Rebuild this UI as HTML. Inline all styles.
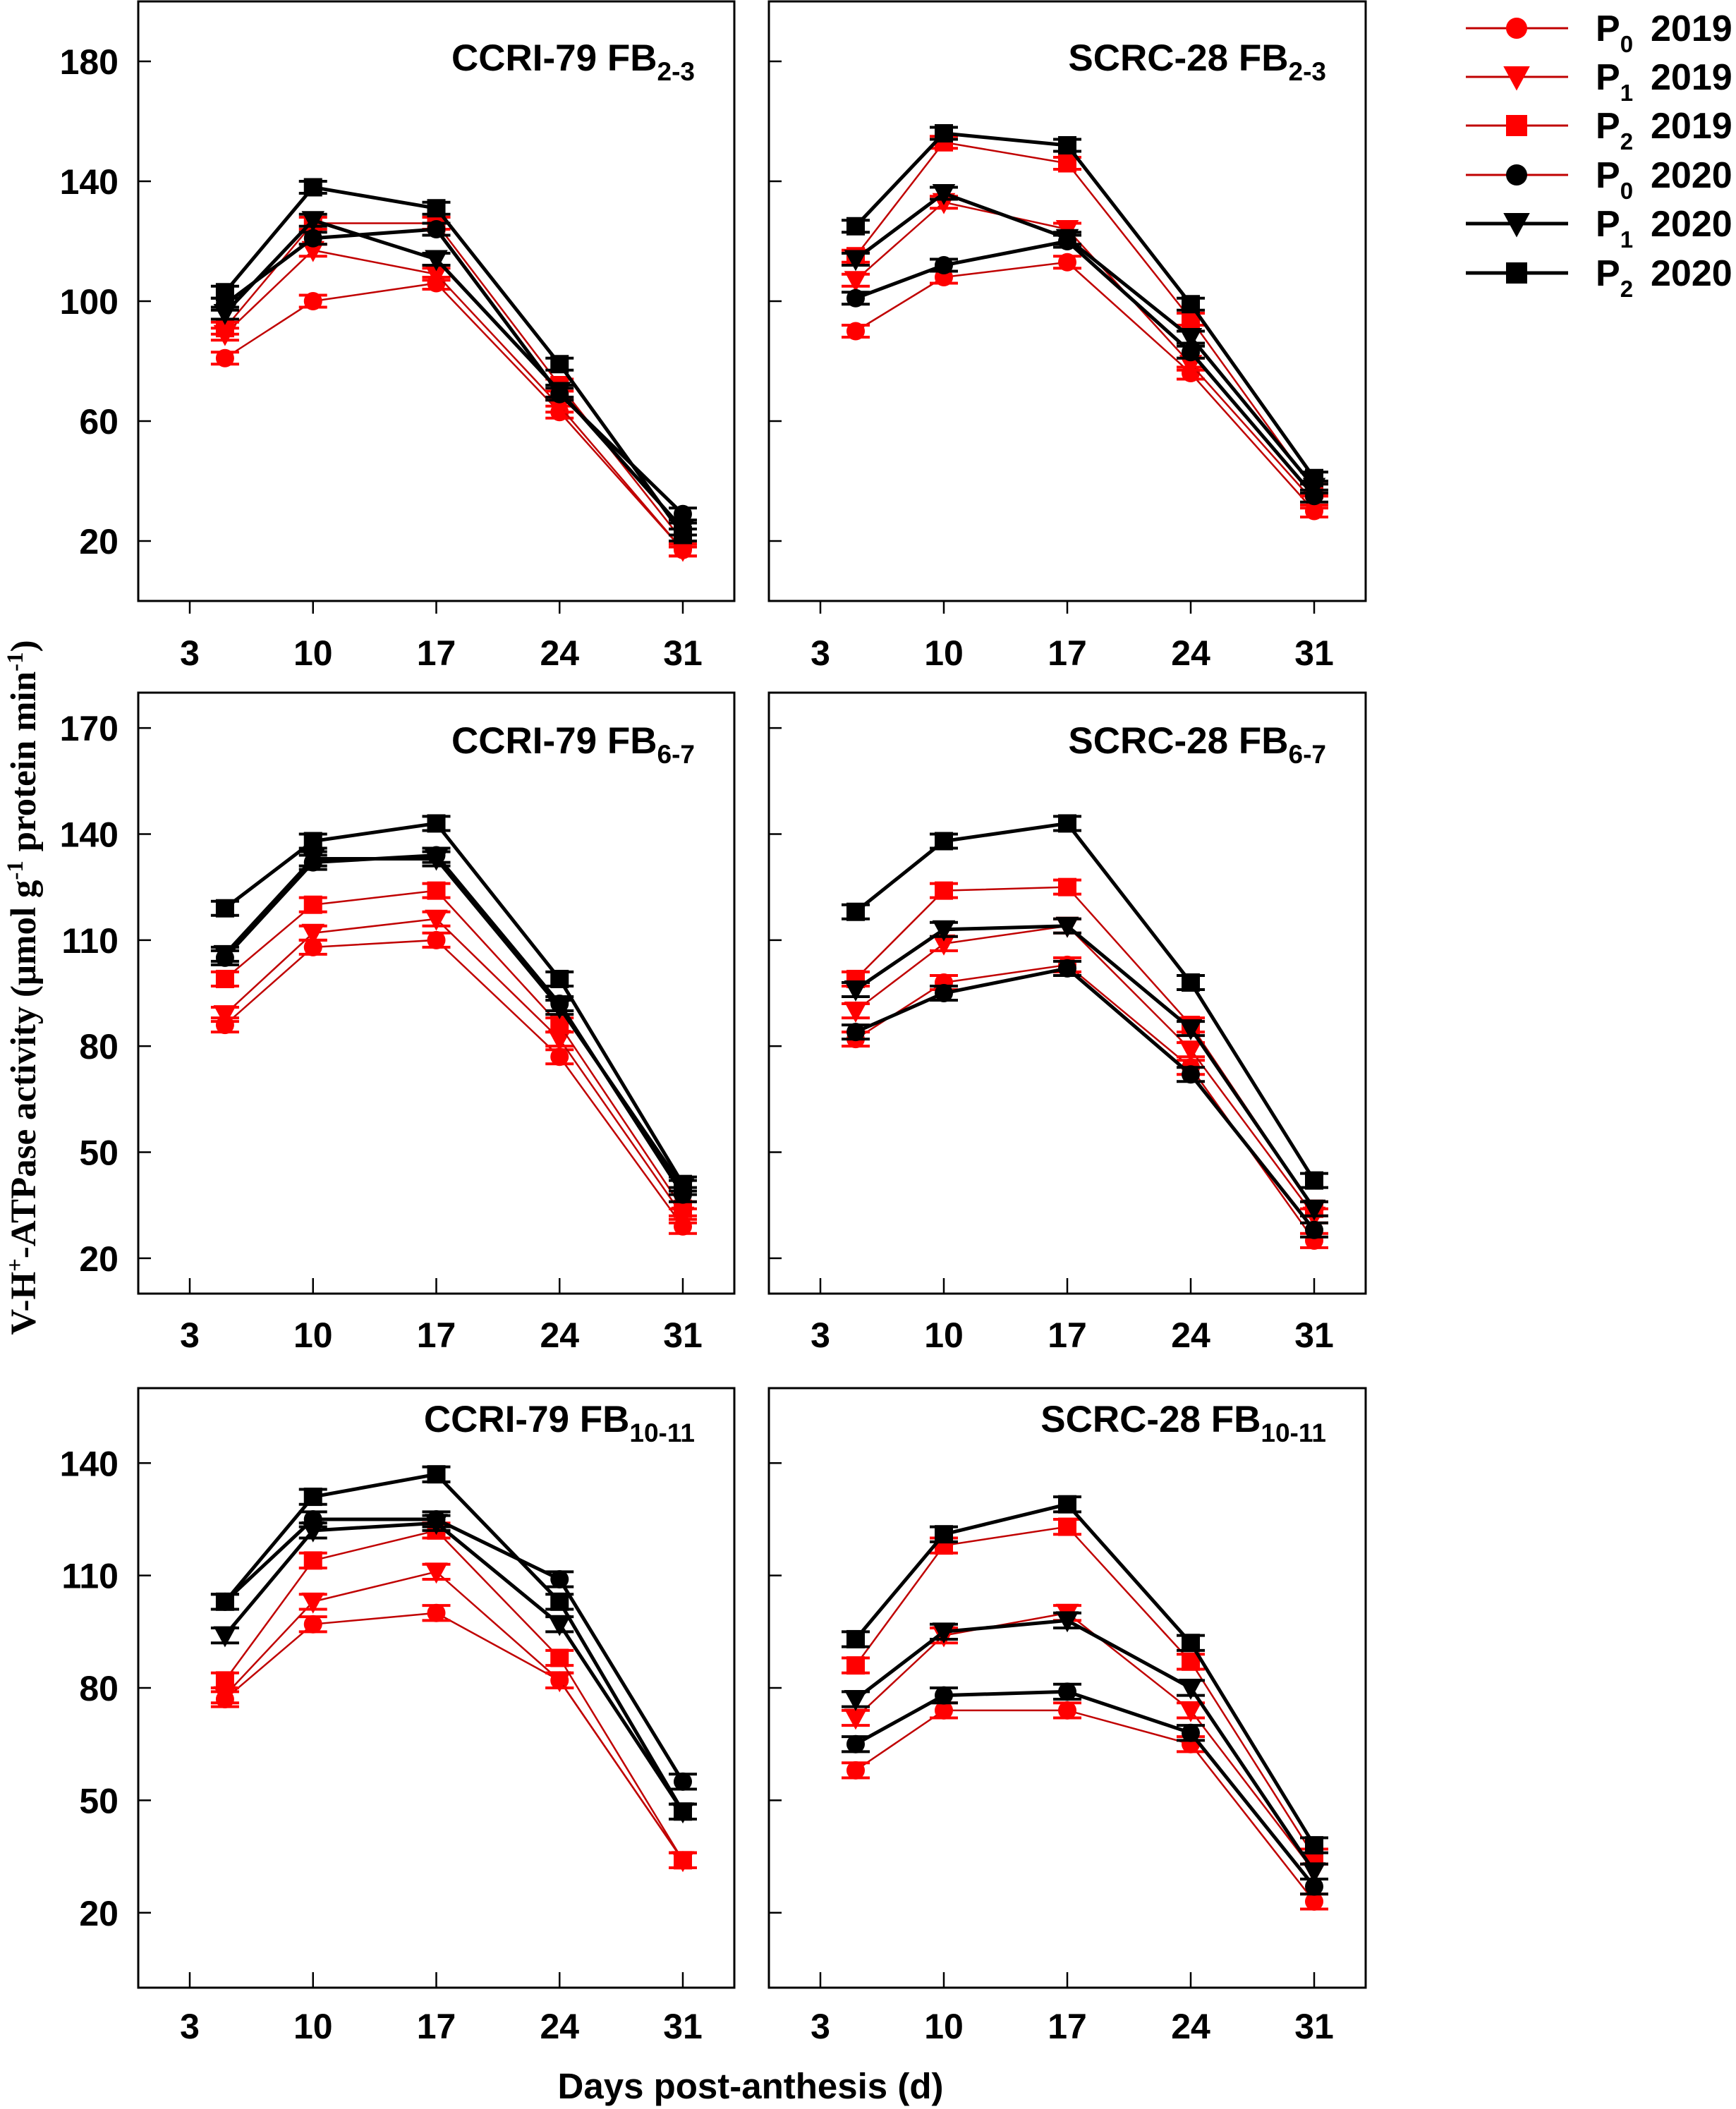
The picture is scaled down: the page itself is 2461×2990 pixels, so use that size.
<!DOCTYPE html>
<html><head><meta charset="utf-8"><style>
html,body{margin:0;padding:0;background:#fff;}
svg{display:block;}
text{font-family:"Liberation Sans",Arial,sans-serif;font-weight:bold;fill:#000;}
</style></head><body>
<svg id="chart" width="2461" height="2990" viewBox="0 0 2461 2990" xmlns="http://www.w3.org/2000/svg"></svg>
<script>
const days = [5, 10, 17, 24, 31];
const xTickLabels = [3, 10, 17, 24, 31];
const seriesNames = ["P0 2019","P1 2019","P2 2019","P0 2020","P1 2020","P2 2020"];
const panelTitles = ["CCRI-79 FB","SCRC-28 FB","CCRI-79 FB","SCRC-28 FB","CCRI-79 FB","SCRC-28 FB"];
const panelSubs = ["2-3","2-3","6-7","6-7","10-11","10-11"];
const row1Ticks = [20, 60, 100, 140, 180];
const row2Ticks = [20, 50, 80, 110, 140, 170];
const row3Ticks = [20, 50, 80, 110, 140];
const errVal = 2;
// panel 1 CCRI FB2-3
const p1_P0_2019 = [81, 100, 106, 63, 17];
const p1_P1_2019 = [89, 117, 109, 65, 17];
const p1_P2_2019 = [91, 126, 126, 72, 20];
const p1_P0_2020 = [99, 121, 124, 69, 29];
const p1_P1_2020 = [96, 127, 114, 70, 24];
const p1_P2_2020 = [103, 138, 131, 79, 22];
// panel 2 SCRC FB2-3
const p2_P0_2019 = [90, 108, 113, 76, 30];
const p2_P1_2019 = [107, 133, 124, 79, 33];
const p2_P2_2019 = [115, 153, 146, 94, 37];
const p2_P0_2020 = [101, 112, 120, 83, 35];
const p2_P1_2020 = [114, 136, 121, 88, 38];
const p2_P2_2020 = [125, 156, 152, 99, 41];
// panel 3 CCRI FB6-7
const p3_P0_2019 = [86, 108, 110, 77, 29];
const p3_P1_2019 = [89, 112, 116, 82, 32];
const p3_P2_2019 = [99, 120, 124, 86, 34];
const p3_P0_2020 = [105, 132, 134, 92, 38];
const p3_P1_2020 = [106, 133, 133, 91, 40];
const p3_P2_2020 = [119, 138, 143, 99, 41];
// panel 4 SCRC FB6-7
const p4_P0_2019 = [82, 98, 103, 74, 25];
const p4_P1_2019 = [90, 109, 114, 79, 32];
const p4_P2_2019 = [99, 124, 125, 86, 34];
const p4_P0_2020 = [84, 95, 102, 72, 28];
const p4_P1_2020 = [96, 113, 114, 85, 34];
const p4_P2_2020 = [118, 138, 143, 98, 42];
// panel 5 CCRI FB10-11
const p5_P0_2019 = [77, 97, 100, 82, 34];
const p5_P1_2019 = [78, 103, 111, 82, 34];
const p5_P2_2019 = [82, 114, 122, 88, 34];
const p5_P0_2020 = [103, 125, 125, 109, 55];
const p5_P1_2020 = [94, 122, 124, 97, 47];
const p5_P2_2020 = [103, 131, 137, 103, 47];
// panel 6 SCRC FB10-11
const p6_P0_2019 = [58, 74, 74, 65, 23];
const p6_P1_2019 = [72, 94, 100, 74, 31];
const p6_P2_2019 = [86, 118, 123, 87, 35];
const p6_P0_2020 = [65, 78, 79, 68, 27];
const p6_P1_2020 = [77, 95, 98, 80, 31];
const p6_P2_2020 = [93, 121, 129, 92, 38];

const panelData = [
 [p1_P0_2019,p1_P1_2019,p1_P2_2019,p1_P0_2020,p1_P1_2020,p1_P2_2020],
 [p2_P0_2019,p2_P1_2019,p2_P2_2019,p2_P0_2020,p2_P1_2020,p2_P2_2020],
 [p3_P0_2019,p3_P1_2019,p3_P2_2019,p3_P0_2020,p3_P1_2020,p3_P2_2020],
 [p4_P0_2019,p4_P1_2019,p4_P2_2019,p4_P0_2020,p4_P1_2020,p4_P2_2020],
 [p5_P0_2019,p5_P1_2019,p5_P2_2019,p5_P0_2020,p5_P1_2020,p5_P2_2020],
 [p6_P0_2019,p6_P1_2019,p6_P2_2019,p6_P0_2020,p6_P1_2020,p6_P2_2020]
];

const NS = "http://www.w3.org/2000/svg";
const svg = document.getElementById("chart");
function mk(tag, attrs, parent){
  const e = document.createElementNS(NS, tag);
  for (const k in attrs) e.setAttribute(k, attrs[k]);
  (parent||svg).appendChild(e);
  return e;
}
const cols = [{l:196,r:1041},{l:1090,r:1936}];
const rows = [
  {t:2,b:852,min:0,max:200,ticks:row1Ticks,lab:925,tickOut:true,ty:100},
  {t:982,b:1834,min:10,max:180,ticks:row2Ticks,lab:1892,tickOut:false,ty:1068},
  {t:1968,b:2818,min:0,max:160,ticks:row3Ticks,lab:2872,tickOut:false,ty:2030}
];
const styles = [
  {c:"#ff0000",lc:"#c00000",lw:2.5,m:"circle"},
  {c:"#ff0000",lc:"#c00000",lw:2.5,m:"tri"},
  {c:"#ff0000",lc:"#c00000",lw:2.5,m:"square"},
  {c:"#000",lc:"#000",lw:5,m:"circle"},
  {c:"#000",lc:"#000",lw:5,m:"tri"},
  {c:"#000",lc:"#000",lw:5,m:"square"}
];
function marker(g, kind, x, y, s, color){
  let e;
  if (kind==="circle") e = mk("circle",{cx:x,cy:y,r:s,fill:color},g);
  else if (kind==="square") e = mk("rect",{x:x-s,y:y-s,width:2*s,height:2*s,fill:color},g);
  else e = mk("polygon",{points:`${x-s*1.25},${y-s} ${x+s*1.25},${y-s} ${x},${y+s*1.3}`,fill:color},g);
  return e;
}
for (let p=0;p<6;p++){
  const row = rows[Math.floor(p/2)], col = cols[p%2];
  const g = mk("g",{});
  
  
  const xS = d => col.l + 73 + (d-3)*(col.r-col.l-146)/28;
  const yS = v => row.b - (v-row.min)*(row.b-row.t)/(row.max-row.min);
  const frame = mk("rect",{x:col.l,y:row.t,width:col.r-col.l,height:row.b-row.t,fill:"none",stroke:"#000","stroke-width":3},g);
  
  
  row.ticks.forEach(v=>{
    const y=yS(v);
    mk("line",{x1:col.l,x2:col.l+18,y1:y,y2:y,stroke:"#000","stroke-width":2.5},g);
    if (p%2===0){
      const t=mk("text",{x:168,y:y+18,"text-anchor":"end","font-size":50},g);
      t.textContent=v;
      
      
    }
  });
  xTickLabels.forEach(d=>{
    const x=xS(d);
    if (row.tickOut) mk("line",{x1:x,x2:x,y1:row.b,y2:row.b+18,stroke:"#000","stroke-width":2.5},g);
    else mk("line",{x1:x,x2:x,y1:row.b,y2:row.b-22,stroke:"#000","stroke-width":2.5},g);
    const t=mk("text",{x:x,y:row.lab+18,"text-anchor":"middle","font-size":50},g);
    t.textContent=d;
    
    
  });
  const title = mk("text",{x:col.r-56,y:row.ty,"text-anchor":"end","font-size":53},g);
  
  
  const ts1 = mk("tspan",{},title); ts1.textContent = panelTitles[p];
  const ts2 = mk("tspan",{"font-size":37,dy:14},title); ts2.textContent = panelSubs[p];
  panelData[p].forEach((vals,si)=>{
    const st=styles[si];
    const sg=mk("g",{},g);
    
    
    const pts = vals.map((v,i)=>xS(days[i])+","+yS(v)).join(" ");
    mk("polyline",{points:pts,fill:"none",stroke:st.lc,"stroke-width":st.lw},sg);
    vals.forEach((v,i)=>{
      const x=xS(days[i]), y=yS(v), e=(row.b-row.t)/(row.max-row.min)*errVal;
      mk("line",{x1:x,x2:x,y1:y-e,y2:y+e,stroke:st.c,"stroke-width":3},sg);
      mk("line",{x1:x-20,x2:x+20,y1:y-e,y2:y-e,stroke:st.c,"stroke-width":4},sg);
      mk("line",{x1:x-20,x2:x+20,y1:y+e,y2:y+e,stroke:st.c,"stroke-width":4},sg);
      const m = marker(sg, st.m, x, y, 13, st.c);
      
      
    });
  });
}
// legend
const lg = mk("g",{});


const legY = [40,109,178,248,317,387];
seriesNames.forEach((n,i)=>{
  const st=styles[i], y=legY[i];
  const eg=mk("g",{},lg);
  
  
  mk("line",{x1:2078,x2:2223,y1:y,y2:y,stroke:i===3?"#c00000":st.lc,"stroke-width":i<4?3:5},eg);
  marker(eg, st.m, 2150, y, 15, st.c);
  const t=mk("text",{x:2262,y:y+18,"font-size":52},eg);
  const a=mk("tspan",{},t); a.textContent="P";
  const b=mk("tspan",{"font-size":33,dy:16},t); b.textContent=n.charAt(1);
  const c=mk("tspan",{x:2340,dy:-16},t); c.textContent=n.split(" ")[1];
});
// axis titles
const yt = mk("text",{x:0,y:0,"text-anchor":"middle","font-size":51,transform:"translate(50,1400) rotate(-90)",style:"font-family:'Liberation Serif','DejaVu Serif',serif"});


yt.innerHTML = 'V-H<tspan font-size="33" dy="-18">+</tspan><tspan dy="18">-ATPase activity (μmol g</tspan><tspan font-size="33" dy="-18">-1</tspan><tspan dy="18"> protein min</tspan><tspan font-size="33" dy="-18">-1</tspan><tspan dy="18">)</tspan>';
const xt = mk("text",{x:1064,y:2975,"text-anchor":"middle","font-size":51});
xt.textContent = "Days post-anthesis (d)";


</script>
</body></html>
